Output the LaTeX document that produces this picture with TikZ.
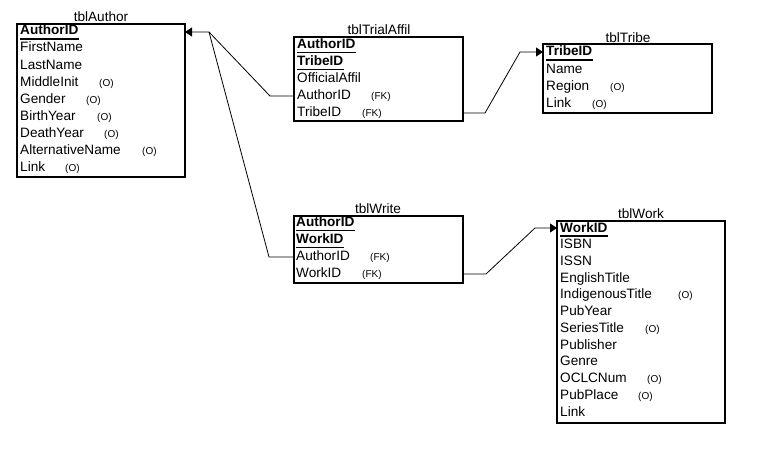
\documentclass[tikz,border=0pt]{standalone}
\usepackage{fontspec}
\setmainfont{Liberation Sans}
\usetikzlibrary{arrows.meta,calc}
\begin{document}
\begin{tikzpicture}[x=1pt,y=-1pt,
  tbl/.style={draw, line width=1.1pt, anchor=north west, inner sep=0pt, outer sep=0pt},
  ttl/.style={font=\fontsize{13.6}{15}\selectfont, inner sep=0pt, anchor=base},
  fld/.style={font=\fontsize{13.6}{15}\selectfont, inner sep=0pt, anchor=base west},
  pk/.style={fld, font=\fontsize{13.6}{15}\selectfont\bfseries},
  note/.style={font=\fontsize{10}{11}\selectfont, inner sep=0pt, anchor=base west},
  uline/.style={line width=1.4pt},
  conn/.style={line width=0.8pt},
  arr/.style={conn, -{Triangle[length=7pt,width=9pt]}}]
\useasboundingbox (0,0) rectangle (778,460);

% ---------- tblAuthor ----------
\node[tbl, minimum width=168pt, minimum height=153pt] (author) at (17,24) {};
\node[ttl] (authorT) at (101,22) {tblAuthor};
\node[pk] (au1) at (20,35) {AuthorID};
\draw[uline] ([yshift=-4pt]au1.base west) -- ([yshift=-4pt]au1.base east);
\foreach \t [count=\i from 2] in {FirstName,LastName,MiddleInit,Gender,BirthYear,DeathYear,AlternativeName,Link}
  \node[fld] (au\i) at (20,{35+17*(\i-1)}) {\t};
\node[note] (auo4) at (99,86) {(O)};
\node[note] (auo5) at (86,103) {(O)};
\node[note] (auo6) at (97,120) {(O)};
\node[note] (auo7) at (104,137) {(O)};
\node[note] (auo8) at (142,154) {(O)};
\node[note] (auo9) at (65,171) {(O)};

% ---------- tblTrialAffil ----------
\node[tbl, minimum width=169pt, minimum height=84pt] (trial) at (294,37) {};
\node[ttl] (trialT) at (379,35) {tblTrialAffil};
\node[pk] (ta1) at (297,48.5) {AuthorID};
\node[pk] (ta2) at (297,65.5) {TribeID};
\draw[uline] ([yshift=-4pt]ta1.base west) -- ([yshift=-4pt]ta1.base east);
\draw[uline] ([yshift=-4pt]ta2.base west) -- ([yshift=-4pt]ta2.base east);
\node[fld] (ta3) at (297,82.5) {OfficialAffil};
\node[fld] (ta4) at (297,99.5) {AuthorID};
\node[fld] (ta5) at (297,116.5) {TribeID};
\node[note] (tan4) at (371,99.5) {(FK)};
\node[note] (tan5) at (362,116.5) {(FK)};

% ---------- tblTribe ----------
\node[tbl, minimum width=169pt, minimum height=69pt] (tribe) at (543,44) {};
\node[ttl] (tribeT) at (628,42) {tblTribe};
\node[pk] (tr1) at (546,56) {TribeID};
\draw[uline] ([yshift=-4pt]tr1.base west) -- ([yshift=-4pt]tr1.base east);
\node[fld] (tr2) at (546,73) {Name};
\node[fld] (tr3) at (546,90) {Region};
\node[fld] (tr4) at (546,107) {Link};
\node[note] (tro3) at (610,90) {(O)};
\node[note] (tro4) at (592,107) {(O)};

% ---------- tblWrite ----------
\node[tbl, minimum width=169pt, minimum height=67pt] (write) at (294,216) {};
\node[ttl] (writeT) at (378,213) {tblWrite};
\node[pk] (wr1) at (296,226.5) {AuthorID};
\node[pk] (wr2) at (296,243.5) {WorkID};
\draw[uline] ([yshift=-4pt]wr1.base west) -- ([yshift=-4pt]wr1.base east);
\draw[uline] ([yshift=-4pt]wr2.base west) -- ([yshift=-4pt]wr2.base east);
\node[fld] (wr3) at (296,260.5) {AuthorID};
\node[fld] (wr4) at (296,277.5) {WorkID};
\node[note] (wrn3) at (370,260.5) {(FK)};
\node[note] (wrn4) at (362,277.5) {(FK)};

% ---------- tblWork ----------
\node[tbl, minimum width=168pt, minimum height=202pt] (work) at (557,221) {};
\node[ttl] (workT) at (641,218) {tblWork};
\node[pk] (wk1) at (560,232) {WorkID};
\draw[uline] ([yshift=-4pt]wk1.base west) -- ([yshift=-4pt]wk1.base east);
\foreach \t [count=\i from 2] in {ISBN,ISSN,EnglishTitle,IndigenousTitle,PubYear,SeriesTitle,Publisher,Genre,OCLCNum,PubPlace,Link}
  \node[fld] (wk\i) at (560,{232+16.73*(\i-1)}) {\t};
\node[note] (wko5) at (678,{232+16.73*4}) {(O)};
\node[note] (wko7) at (645,{232+16.73*6}) {(O)};
\node[note] (wko10) at (647,{232+16.73*9}) {(O)};
\node[note] (wko11) at (638,{232+16.73*10}) {(O)};

% ---------- connectors ----------
\coordinate (auPK) at ($(author.east |- au1.base)+(0,-3)$);
\coordinate (j1) at ($(auPK)+(24,0)$);
\coordinate (taA) at ($(trial.west |- ta4.base)+(0,-3.5)$);
\coordinate (taT) at ($(trial.east |- ta5.base)+(0,-3.5)$);
\coordinate (trPK) at ($(tribe.west |- tr1.base)+(0,-4)$);
\coordinate (wrA) at ($(write.west |- wr3.base)+(0,-3.5)$);
\coordinate (wrW) at ($(write.east |- wr4.base)+(0,-3.5)$);
\coordinate (wkPK) at ($(work.west |- wk1.base)+(0,-4)$);

\draw[arr] (taA) -- ++(-24,0) -- (j1) -- (auPK);
\draw[conn] (wrA) -- ++(-25,0) -- (j1);
\draw[arr] (taT) -- ++(22,0) -- ($(trPK)+(-23,0)$) -- (trPK);
\draw[arr] (wrW) -- ++(23,0) -- ($(wkPK)+(-22,0)$) -- (wkPK);
\end{tikzpicture}
\end{document}
